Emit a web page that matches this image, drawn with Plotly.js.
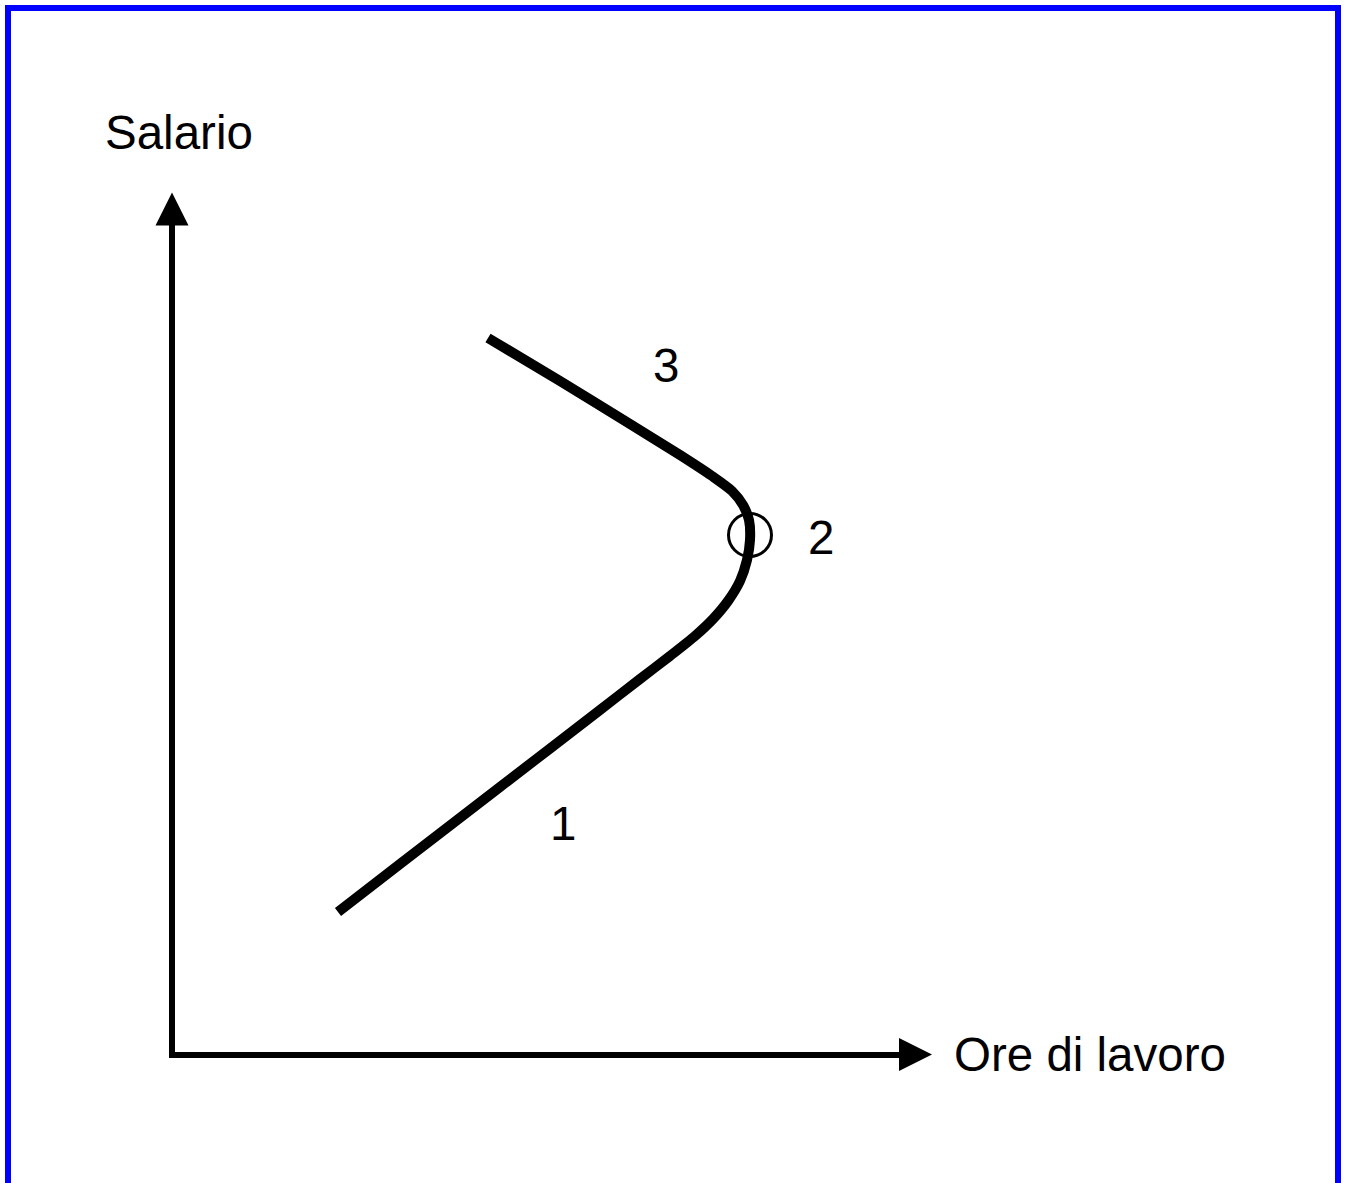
<!DOCTYPE html>
<html>
<head>
<meta charset="utf-8">
<script src="https://cdn.plot.ly/plotly-3.0.1.min.js"></script>
<style>
  html, body { margin: 0; padding: 0; background: #fff; }
  #plot { width: 1346px; height: 1183px; }
</style>
</head>
<body>
<div id="plot"></div>
<script>
// Backward-bending labour supply curve (hours on x, wage on y)
const hours = [16.6, 22.8, 32.8, 42.8, 46.8, 49.8, 52.3, 54.1, 55.6, 56.8, 57.5, 57.8, 57.7, 57.1, 56.0, 54.0, 50.8, 45.8, 38.8, 31.6];
const wage  = [14.3, 19.1, 26.8, 34.5, 37.6, 39.9, 41.9, 43.6, 45.4, 47.4, 49.5, 51.5, 53.5, 55.0, 56.4, 57.9, 60.0, 63.1, 67.4, 71.7];

// turning point (circled)
const pointHours = [57.8];
const pointWage = [52.0];

// section labels
const labelText  = ['1', '2', '3'];
const labelHours = [39.1, 64.9, 49.4];
const labelWage  = [23.2, 51.8, 69.0];

// axes (arrow tips at the far ends)
const xAxisHours = [-0.3, 72.8];
const xAxisWage  = [0, 0];
const yAxisHours = [0, 0];
const yAxisWage  = [-0.3, 83.0];
const xArrow = {x: 76.0, y: 0.05};
const yArrow = {x: 0, y: 86.25};

const axisTitleX = 'Ore di lavoro';
const axisTitleY = 'Salario';

const font = {family: '"Liberation Sans", Arial, sans-serif', size: 47.5, color: '#000'};

const traces = [
  {
    x: xAxisHours, y: xAxisWage, mode: 'lines',
    line: {color: '#000', width: 6}, hoverinfo: 'skip'
  },
  {
    x: yAxisHours, y: yAxisWage, mode: 'lines',
    line: {color: '#000', width: 6}, hoverinfo: 'skip'
  },
  {
    x: [xArrow.x], y: [xArrow.y], mode: 'markers',
    marker: {symbol: 'arrow-right', size: 33, color: '#000', line: {width: 0}}
  },
  {
    x: [yArrow.x], y: [yArrow.y], mode: 'markers',
    marker: {symbol: 'arrow-up', size: 33, color: '#000', line: {width: 0}}
  },
  {
    x: pointHours, y: pointWage, mode: 'markers',
    marker: {symbol: 'circle-open', size: 43, color: '#000', line: {width: 3}}
  },
  {
    x: hours, y: wage, mode: 'lines',
    line: {color: '#000', width: 10, shape: 'spline', smoothing: 0.7}
  }
];

const annotations = labelText.map((t, i) => ({
  x: labelHours[i], y: labelWage[i], text: t, showarrow: false,
  xanchor: 'center', yanchor: 'middle', font: font
}));
annotations.push({
  x: 0.7, y: 92.3, text: axisTitleY, showarrow: false,
  xanchor: 'center', yanchor: 'middle', font: font
});
annotations.push({
  x: 78.0, y: 0.1, text: axisTitleX, showarrow: false,
  xanchor: 'left', yanchor: 'middle', font: font
});

const layout = {
  width: 1346,
  height: 1183,
  margin: {l: 0, r: 0, t: 0, b: 0},
  paper_bgcolor: '#fff',
  plot_bgcolor: '#fff',
  showlegend: false,
  xaxis: {range: [-17.2, 117.4], visible: false, fixedrange: true},
  yaxis: {range: [-12.8, 105.5], visible: false, fixedrange: true},
  annotations: annotations,
  shapes: [{
    type: 'rect', xref: 'paper', yref: 'paper',
    x0: 8 / 1346, x1: 1338 / 1346, y0: -0.02, y1: 1 - 8 / 1183,
    line: {color: '#0000ff', width: 6}
  }]
};

Plotly.newPlot('plot', traces, layout, {staticPlot: true});
</script>
</body>
</html>
